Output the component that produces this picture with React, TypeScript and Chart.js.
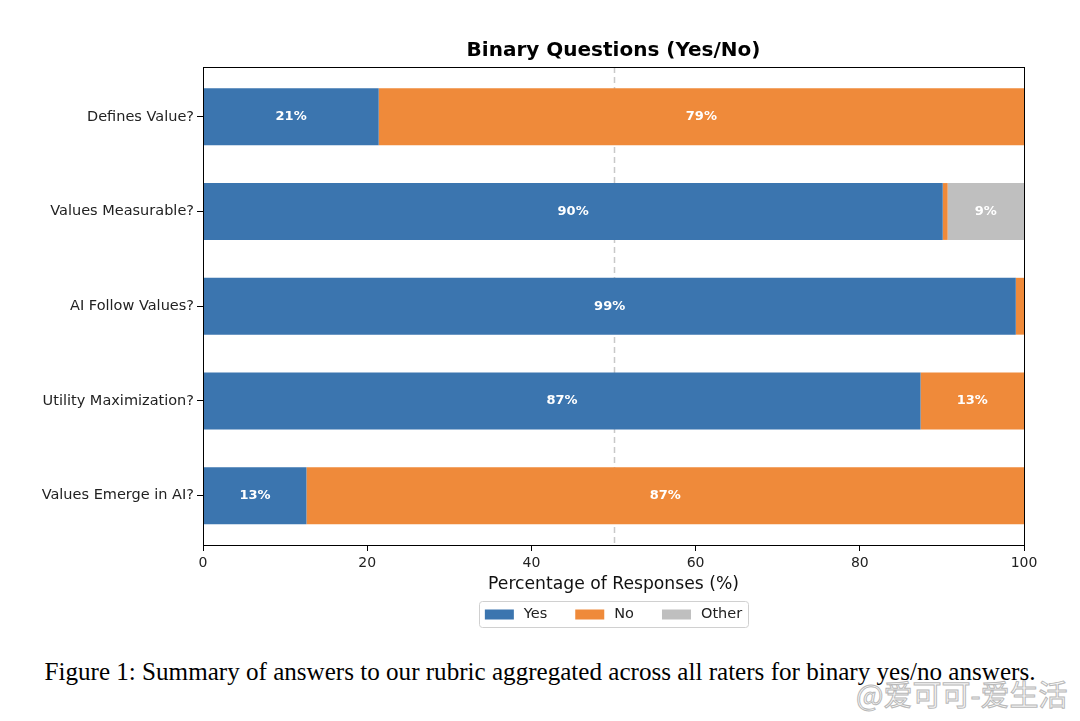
import React, { useEffect, useRef } from "react";
import { Chart, registerables } from "chart.js";

Chart.register(...registerables);

const categories = [
  "Defines Value?",
  "Values Measurable?",
  "AI Follow Values?",
  "Utility Maximization?",
  "Values Emerge in AI?",
];
const seriesLabels = ["Yes", "No", "Other"];
const yesValues = [21.4, 90.1, 99.0, 87.4, 12.6];
const noValues = [78.6, 0.6, 1.0, 12.6, 87.4];
const otherValues = [0, 9.3, 0, 0, 0];
const seriesColors = ["#3b75af", "#ef8a3a", "#bfbfbf"];
const xTickValues = [0, 20, 40, 60, 80, 100];
const chartTitle = "Binary Questions (Yes/No)";
const xAxisTitle = "Percentage of Responses (%)";
const referenceLine = 50;
const labelThreshold = 5;
const caption =
  "Figure 1: Summary of answers to our rubric aggregated across all raters for binary yes/no answers.";
const watermark = "@爱可可-爱生活";

const FONT = "'DejaVu Sans', sans-serif";

const framePlugin = {
  id: "framePlugin",
  beforeDatasetsDraw(chart: any) {
    const { ctx, chartArea, scales } = chart;
    const x = Math.round(scales.x.getPixelForValue(referenceLine)) + 0.5;
    ctx.save();
    ctx.strokeStyle = "#c8c8c8";
    ctx.lineWidth = 1.5;
    ctx.setLineDash([6, 4]);
    ctx.beginPath();
    ctx.moveTo(x, chartArea.top);
    ctx.lineTo(x, chartArea.bottom);
    ctx.stroke();
    ctx.restore();
  },
  afterDatasetsDraw(chart: any) {
    const { ctx, chartArea } = chart;
    chart.data.datasets.forEach((ds: any, di: number) => {
      const meta = chart.getDatasetMeta(di);
      meta.data.forEach((el: any, i: number) => {
        const v = ds.data[i].x;
        if (v < labelThreshold) return;
        const c = el.getCenterPoint();
        ctx.save();
        ctx.fillStyle = "#ffffff";
        ctx.font = `bold 13px ${FONT}`;
        ctx.textAlign = "center";
        ctx.textBaseline = "middle";
        ctx.fillText(`${Math.round(v)}%`, c.x, c.y);
        ctx.restore();
      });
    });
    ctx.save();
    ctx.strokeStyle = "#000";
    ctx.lineWidth = 1;
    ctx.strokeRect(
      Math.round(chartArea.left) + 0.5,
      Math.round(chartArea.top) + 0.5,
      Math.round(chartArea.right - chartArea.left),
      Math.round(chartArea.bottom - chartArea.top)
    );
    ctx.restore();
  },
  afterDraw(chart: any) {
    const { ctx, chartArea } = chart;
    const cx = (chartArea.left + chartArea.right) / 2;
    ctx.save();
    ctx.fillStyle = "#000";
    ctx.font = `bold 20px ${FONT}`;
    ctx.textAlign = "center";
    ctx.textBaseline = "middle";
    ctx.fillText(chartTitle, cx, 51);
    ctx.restore();
    // legend
    ctx.save();
    ctx.font = `14.5px ${FONT}`;
    const pad = 6;
    const sw = 29;
    const gapSw = 10;
    const gapItem = 28;
    const widths = seriesLabels.map((l) => ctx.measureText(l).width);
    let total = pad * 2;
    widths.forEach((w, i) => {
      total += sw + gapSw + w + (i < widths.length - 1 ? gapItem : 0);
    });
    const top = 601;
    const h = 26;
    const left = cx - total / 2;
    ctx.strokeStyle = "#d0d0d0";
    ctx.lineWidth = 1;
    ctx.beginPath();
    if ((ctx as any).roundRect) {
      (ctx as any).roundRect(Math.round(left) + 0.5, top + 0.5, Math.round(total), h, 3);
    } else {
      ctx.rect(Math.round(left) + 0.5, top + 0.5, Math.round(total), h);
    }
    ctx.stroke();
    let x = left + pad;
    const my = top + h / 2 + 0.5;
    seriesLabels.forEach((l, i) => {
      ctx.fillStyle = seriesColors[i];
      ctx.fillRect(x, my - 5, sw, 10);
      x += sw + gapSw;
      ctx.fillStyle = "#222";
      ctx.textAlign = "left";
      ctx.textBaseline = "middle";
      ctx.fillText(l, x, my);
      x += widths[i] + gapItem;
    });
    ctx.restore();
  },
};

export default function App() {
  const canvasRef = useRef<HTMLCanvasElement | null>(null);

  useEffect(() => {
    const canvas = canvasRef.current;
    if (!canvas) return;
    const valueSets = [yesValues, noValues, otherValues];
    const chart = new Chart(canvas, {
      type: "bar",
      data: {
        datasets: seriesLabels.map((label, i) => ({
          label,
          data: valueSets[i].map((v, j) => ({ x: v, y: j })),
          backgroundColor: seriesColors[i],
          borderWidth: 0,
          barPercentage: 0.6,
          categoryPercentage: 1.0,
        })),
      },
      options: {
        indexAxis: "y",
        animation: false,
        responsive: false,
        devicePixelRatio: 1,
        layout: { padding: { top: 67, right: 56, bottom: 45, left: 0 } },
        plugins: {
          legend: { display: false },
          title: { display: false },
          tooltip: { enabled: false },
        },
        scales: {
          x: {
            type: "linear",
            stacked: true,
            min: 0,
            max: 100,
            afterBuildTicks(scale: any) {
              scale.ticks = xTickValues.map((v) => ({ value: v }));
            },
            afterFit(scale: any) {
              scale.height = 50;
            },
            ticks: {
              color: "#222",
              font: { family: FONT, size: 14 },
              padding: 4,
              maxRotation: 0,
            },
            grid: {
              display: true,
              drawOnChartArea: false,
              drawTicks: true,
              tickLength: 6,
              tickColor: "#000",
            },
            border: { display: true, color: "#000", width: 1 },
            title: {
              display: true,
              text: xAxisTitle,
              color: "#111",
              font: { family: FONT, size: 17.2 },
              padding: { top: 2, bottom: 0 },
            },
          },
          y: {
            type: "linear",
            stacked: true,
            reverse: true,
            offset: false,
            min: -0.525,
            max: 4.52,
            afterBuildTicks(scale: any) {
              scale.ticks = categories.map((_, j) => ({ value: j }));
            },
            afterFit(scale: any) {
              scale.width = 203;
            },
            ticks: {
              color: "#222",
              font: { family: FONT, size: 14.5 },
              padding: 3,
              callback: (v: any) => categories[Math.round(Number(v))] ?? "",
            },
            grid: {
              display: true,
              offset: false,
              drawOnChartArea: false,
              drawTicks: true,
              tickLength: 6,
              tickColor: "#000",
            },
            border: { display: true, color: "#000", width: 1 },
          },
        },
      },
      plugins: [framePlugin],
    } as any);
    return () => chart.destroy();
  }, []);

  return (
    <div
      style={{
        position: "absolute",
        left: 0,
        top: 0,
        width: 1080,
        height: 721,
        background: "#fff",
        overflow: "hidden",
      }}
    >
      <canvas
        ref={canvasRef}
        width={1080}
        height={640}
        style={{ width: 1080, height: 640, display: "block" }}
      />
      <div
        style={{
          position: "absolute",
          left: 0,
          top: 658,
          width: 1080,
          textAlign: "center",
          fontFamily: "'Liberation Serif', 'Times New Roman', serif",
          fontSize: 25.1,
          color: "#000",
          whiteSpace: "nowrap",
        }}
      >
        {caption}
      </div>
      <div
        style={{
          position: "absolute",
          left: 856,
          top: 672,
          fontFamily: "'Noto Sans CJK SC', sans-serif",
          fontSize: 29,
          color: "#fafafa",
          WebkitTextStroke: "1px #b8b8b8",
          whiteSpace: "nowrap",
        }}
      >
        {watermark}
      </div>
    </div>
  );
}
